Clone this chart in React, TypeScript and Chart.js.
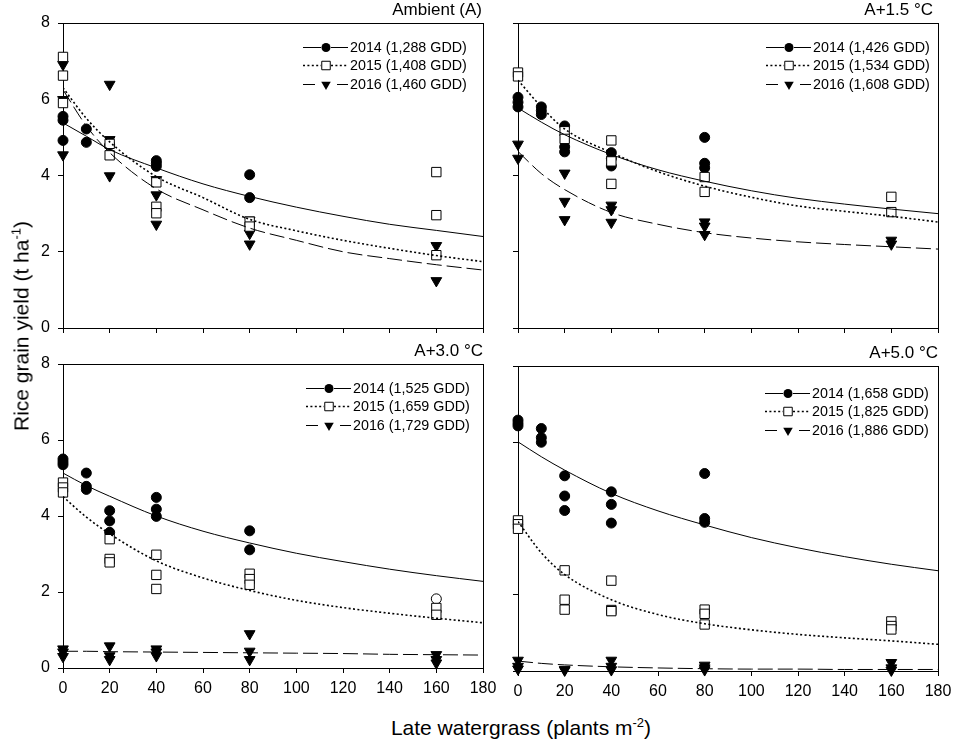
import React, { useEffect, useRef } from 'react';
import { Chart, registerables } from 'chart.js';

Chart.register(...registerables);

const FONT = '"Liberation Sans", Arial, Helvetica, sans-serif';

type Pt = [number, number];

// ---------- shared axes ----------
const xTicks = [0, 20, 40, 60, 80, 100, 120, 140, 160, 180];
const yTicks = [0, 2, 4, 6, 8];
const fitX = [0, 10, 20, 40, 60, 80, 100, 120, 140, 160, 180];

// ---------- Ambient (A) ----------
const ambLabels = ['2014 (1,288 GDD)', '2015 (1,408 GDD)', '2016 (1,460 GDD)'];
const amb2014: Pt[] = [[0, 5.55], [0, 5.45], [0, 4.92], [10, 5.22], [10, 4.87], [20, 4.8], [40, 4.39], [40, 4.32], [40, 4.24], [80, 4.02], [80, 3.42]];
const amb2015: Pt[] = [[0, 7.11], [0, 6.62], [0, 5.9], [20, 4.83], [20, 4.53], [40, 3.82], [40, 3.18], [40, 3.01], [80, 2.79], [80, 2.66], [160, 4.09], [160, 2.96], [160, 1.91]];
const amb2016: Pt[] = [[0, 6.91], [0, 5.99], [0, 4.54], [20, 6.39], [20, 4.94], [20, 3.99], [40, 3.89], [40, 3.49], [40, 2.72], [80, 2.83], [80, 2.48], [80, 2.2], [160, 2.16], [160, 1.24]];
const ambFit2014 = [5.38, 5.03, 4.68, 4.2, 3.78, 3.45, 3.17, 2.93, 2.72, 2.56, 2.4];
const ambFit2015 = [6.3, 5.5, 4.88, 3.97, 3.42, 2.85, 2.55, 2.3, 2.09, 1.9, 1.74];
const ambFit2016 = [6.25, 5.3, 4.6, 3.65, 3.1, 2.62, 2.3, 2.0, 1.82, 1.66, 1.52];

// ---------- A+1.5 °C ----------
const p15Labels = ['2014 (1,426 GDD)', '2015 (1,534 GDD)', '2016 (1,608 GDD)'];
const p15_2014: Pt[] = [[0, 6.05], [0, 5.92], [0, 5.8], [10, 5.8], [10, 5.7], [10, 5.6], [20, 5.3], [20, 4.75], [20, 4.62], [40, 4.6], [40, 4.45], [40, 4.25], [80, 5.0], [80, 4.32], [80, 4.2]];
const p15_2015: Pt[] = [[0, 6.7], [0, 6.6], [20, 5.16], [20, 4.96], [40, 4.92], [40, 4.37], [40, 3.78], [80, 3.96], [80, 3.57], [160, 3.44], [160, 3.04]];
const p15_2016: Pt[] = [[0, 4.82], [0, 4.45], [20, 4.06], [20, 3.32], [20, 2.84], [40, 3.22], [40, 3.1], [40, 2.77], [80, 2.78], [80, 2.67], [80, 2.45], [160, 2.3], [160, 2.2]];
const p15Fit2014 = [5.77, 5.4, 5.07, 4.55, 4.15, 3.85, 3.6, 3.4, 3.25, 3.12, 3.0];
const p15Fit2015 = [6.5, 5.8, 5.22, 4.6, 4.1, 3.72, 3.43, 3.2, 3.06, 2.93, 2.78];
const p15Fit2016 = [4.63, 4.05, 3.63, 3.03, 2.72, 2.5, 2.36, 2.26, 2.19, 2.13, 2.07];

// ---------- A+3.0 °C ----------
const p30Labels = ['2014 (1,525 GDD)', '2015 (1,659 GDD)', '2016 (1,729 GDD)'];
const p30_2014: Pt[] = [[0, 5.5], [0, 5.42], [0, 5.35], [10, 5.13], [10, 4.78], [10, 4.7], [20, 4.14], [20, 3.87], [20, 3.57], [40, 4.49], [40, 4.18], [40, 3.99], [80, 3.61], [80, 3.11]];
const p30_2014open: Pt[] = [[160, 1.82]];
const p30_2015: Pt[] = [[0, 4.88], [0, 4.75], [0, 4.62], [20, 3.39], [20, 2.87], [20, 2.78], [40, 2.98], [40, 2.45], [40, 2.08], [80, 2.48], [80, 2.34], [80, 2.19], [160, 1.58], [160, 1.4]];
const p30_2016: Pt[] = [[0, 0.5], [0, 0.42], [0, 0.3], [20, 0.58], [20, 0.32], [20, 0.22], [40, 0.5], [40, 0.42], [40, 0.32], [80, 0.9], [80, 0.44], [80, 0.22], [160, 0.35], [160, 0.22], [160, 0.13]];
const p30Fit2014 = [5.13, 4.8, 4.52, 4.0, 3.6, 3.29, 3.02, 2.8, 2.6, 2.43, 2.28];
const p30Fit2015 = [4.51, 3.97, 3.53, 2.82, 2.37, 2.04, 1.78, 1.59, 1.44, 1.31, 1.19];
const p30Fit2016 = [0.44, 0.44, 0.43, 0.42, 0.41, 0.4, 0.39, 0.38, 0.36, 0.35, 0.34];

// ---------- A+5.0 °C ----------
const p50Labels = ['2014 (1,658 GDD)', '2015 (1,825 GDD)', '2016 (1,886 GDD)'];
const p50_2014: Pt[] = [[0, 6.58], [0, 6.5], [0, 6.43], [10, 6.36], [10, 6.12], [10, 6.0], [20, 5.12], [20, 4.59], [20, 4.21], [40, 4.7], [40, 4.37], [40, 3.88], [80, 5.18], [80, 4.0], [80, 3.9]];
const p50_2015: Pt[] = [[0, 3.95], [0, 3.85], [0, 3.73], [20, 2.64], [20, 1.87], [20, 1.61], [40, 2.37], [40, 1.6], [40, 1.57], [80, 1.61], [80, 1.5], [80, 1.22], [160, 1.3], [160, 1.18], [160, 1.09]];
const p50_2016: Pt[] = [[0, 0.28], [0, 0.12], [0, 0.05], [20, 0.04], [20, 0.02], [40, 0.28], [40, 0.12], [40, 0.03], [80, 0.15], [80, 0.08], [80, 0.03], [160, 0.22], [160, 0.08], [160, 0.02]];
const p50Fit2014 = [6.01, 5.62, 5.27, 4.66, 4.2, 3.83, 3.5, 3.23, 3.0, 2.8, 2.63];
const p50Fit2015 = [3.92, 3.1, 2.53, 1.87, 1.48, 1.24, 1.08, 0.96, 0.87, 0.79, 0.7];
const p50Fit2016 = [0.26, 0.2, 0.16, 0.11, 0.08, 0.06, 0.05, 0.05, 0.04, 0.04, 0.04];

// ---------- styles ----------
type Marker = 'circle' | 'rect' | 'triangle';
const SERIES_STYLE: { marker: Marker; fill: string; radius: number; dash: number[]; lw: number }[] = [
  { marker: 'circle', fill: '#000', radius: 5, dash: [], lw: 1 },
  { marker: 'rect', fill: '#fff', radius: 6.6, dash: [2, 2.4], lw: 1.6 },
  { marker: 'triangle', fill: '#000', radius: 6.2, dash: [15, 5], lw: 1 },
];

interface PanelSpec {
  title: string;
  labels: string[];
  pts: Pt[][];
  fits: number[][];
  openPts?: Pt[];
  showX: boolean;
  showY: boolean;
  plotLeft: number;
  plotTop: number;
  plotH: number;
  legendDx: number;
  legendDy: number;
  titleDx: number;
}

const PANELS: PanelSpec[] = [
  { title: 'Ambient (A)', labels: ambLabels, pts: [amb2014, amb2015, amb2016], fits: [ambFit2014, ambFit2015, ambFit2016], showX: false, showY: true, plotLeft: 63, plotTop: 23, plotH: 305, legendDx: -133, legendDy: 24, titleDx: -1 },
  { title: 'A+1.5 °C', labels: p15Labels, pts: [p15_2014, p15_2015, p15_2016], fits: [p15Fit2014, p15Fit2015, p15Fit2016], showX: false, showY: false, plotLeft: 518, plotTop: 23, plotH: 305, legendDx: -125, legendDy: 24, titleDx: -5 },
  { title: 'A+3.0 °C', labels: p30Labels, pts: [p30_2014, p30_2015, p30_2016], fits: [p30Fit2014, p30Fit2015, p30Fit2016], openPts: p30_2014open, showX: true, showY: true, plotLeft: 63, plotTop: 364, plotH: 304, legendDx: -130, legendDy: 24, titleDx: 0 },
  { title: 'A+5.0 °C', labels: p50Labels, pts: [p50_2014, p50_2015, p50_2016], fits: [p50Fit2014, p50Fit2015, p50Fit2016], showX: true, showY: false, plotLeft: 518, plotTop: 366, plotH: 305, legendDx: -126, legendDy: 27, titleDx: 0 },
];

const PLOT_W = 420;
const AXIS_W = 45;
const AXIS_H = 35;
const PAD_TOP = 20;
const PAD_RIGHT = 20;

function drawLegendMarker(ctx: CanvasRenderingContext2D, m: Marker, x: number, y: number) {
  ctx.save();
  ctx.setLineDash([]);
  ctx.lineWidth = 1;
  ctx.strokeStyle = '#000';
  ctx.beginPath();
  if (m === 'circle') {
    ctx.arc(x, y, 4.5, 0, Math.PI * 2);
    ctx.fillStyle = '#000';
    ctx.fill();
  } else if (m === 'rect') {
    ctx.rect(x - 4.25, y - 4.25, 8.5, 8.5);
    ctx.fillStyle = '#fff';
    ctx.fill();
    ctx.stroke();
  } else {
    const r = 5.5;
    ctx.moveTo(x, y + r);
    ctx.lineTo(x - r * 0.866, y - r / 2);
    ctx.lineTo(x + r * 0.866, y - r / 2);
    ctx.closePath();
    ctx.fillStyle = '#000';
    ctx.fill();
  }
  ctx.restore();
}

function Panel({ spec }: { spec: PanelSpec }) {
  const ref = useRef<HTMLCanvasElement>(null);
  const W = AXIS_W + PLOT_W + PAD_RIGHT;
  const H = PAD_TOP + spec.plotH + AXIS_H;

  useEffect(() => {
    if (!ref.current) return;
    const datasets: any[] = [];
    // fitted curves (drawn on top of the markers)
    spec.fits.forEach((ys, i) => {
      const st = SERIES_STYLE[i];
      datasets.push({
        type: 'line',
        data: fitX.map((x, k) => ({ x, y: ys[k] })),
        borderColor: '#000',
        borderWidth: st.lw,
        borderDash: st.dash,
        pointRadius: 0,
        fill: false,
        showLine: true,
        cubicInterpolationMode: 'monotone',
        order: i,
      });
    });
    const markerOrder = [4, 3, 5];
    spec.pts.forEach((pts, i) => {
      const st = SERIES_STYLE[i];
      datasets.push({
        type: 'scatter',
        data: pts.map(([x, y]) => ({ x, y })),
        pointStyle: st.marker,
        pointRotation: st.marker === 'triangle' ? 180 : 0,
        pointRadius: st.radius,
        pointBackgroundColor: st.fill,
        pointBorderColor: '#000',
        pointBorderWidth: 1,
        showLine: false,
        clip: false,
        order: markerOrder[i],
      });
    });
    if (spec.openPts) {
      datasets.push({
        type: 'scatter',
        data: spec.openPts.map(([x, y]) => ({ x, y })),
        pointStyle: 'circle',
        pointRadius: 5,
        pointBackgroundColor: '#fff',
        pointBorderColor: '#000',
        pointBorderWidth: 1,
        showLine: false,
        clip: false,
        order: 3,
      });
    }

    const decor = {
      id: 'decor',
      beforeDatasetsDraw(chart: any) {
        const { ctx, chartArea: a } = chart;
        ctx.save();
        ctx.strokeStyle = '#000';
        ctx.lineWidth = 1;
        ctx.strokeRect(Math.round(a.left) + 0.5, Math.round(a.top) + 0.5, Math.round(a.right - a.left), Math.round(a.bottom - a.top));
        ctx.restore();
      },
      afterDraw(chart: any) {
        const { ctx, chartArea: a } = chart;
        ctx.save();
        // panel title
        ctx.fillStyle = '#000';
        ctx.font = `17px ${FONT}`;
        ctx.textAlign = 'right';
        ctx.textBaseline = 'middle';
        ctx.fillText(spec.title, a.right + spec.titleDx, a.top - 13);
        // legend
        ctx.font = `14.3px ${FONT}`;
        ctx.textAlign = 'left';
        const tx = a.right + spec.legendDx;
        spec.labels.forEach((label, i) => {
          const st = SERIES_STYLE[i];
          const y = Math.round(a.top + spec.legendDy + i * 18.3) + 0.5;
          const mx = tx - 24;
          ctx.strokeStyle = '#000';
          ctx.lineWidth = st.lw;
          ctx.beginPath();
          if (i === 2) {
            // long-dash sample: one dash on each side of the marker
            ctx.setLineDash([]);
            ctx.moveTo(tx - 47, y);
            ctx.lineTo(tx - 35, y);
            ctx.moveTo(tx - 13, y);
            ctx.lineTo(tx - 2, y);
          } else {
            ctx.setLineDash(st.dash);
            ctx.moveTo(tx - 47, y);
            ctx.lineTo(mx - 5, y);
            ctx.moveTo(mx + 5, y);
            ctx.lineTo(tx - 2, y);
          }
          ctx.stroke();
          ctx.setLineDash([]);
          drawLegendMarker(ctx, st.marker, mx, y);
          ctx.fillStyle = '#000';
          ctx.fillText(label, tx, y + 1);
        });
        ctx.restore();
      },
    };

    const chart = new Chart(ref.current, {
      type: 'scatter',
      data: { datasets },
      options: {
        responsive: false,
        animation: false,
        events: [],
        layout: { padding: { top: PAD_TOP, right: PAD_RIGHT, left: 0, bottom: 0 } },
        plugins: { legend: { display: false }, tooltip: { enabled: false }, title: { display: false } },
        scales: {
          x: {
            type: 'linear',
            min: 0,
            max: 180,
            afterBuildTicks: (s: any) => { s.ticks = xTicks.map((v) => ({ value: v })); },
            afterFit: (s: any) => { s.height = AXIS_H; },
            border: { display: true, color: '#000', width: 1 },
            grid: { display: true, drawOnChartArea: false, drawTicks: true, tickLength: 5, tickColor: '#000', tickWidth: 1 },
            ticks: { display: spec.showX, color: '#000', font: { family: FONT, size: 16 }, padding: 6, maxRotation: 0, autoSkip: false },
          },
          y: {
            type: 'linear',
            min: 0,
            max: 8,
            afterBuildTicks: (s: any) => { s.ticks = yTicks.map((v) => ({ value: v })); },
            afterFit: (s: any) => { s.width = AXIS_W; },
            border: { display: true, color: '#000', width: 1 },
            grid: { display: true, drawOnChartArea: false, drawTicks: true, tickLength: 5, tickColor: '#000', tickWidth: 1 },
            ticks: { display: spec.showY, color: '#000', font: { family: FONT, size: 16 }, padding: 8 },
          },
        },
      } as any,
      plugins: [decor],
    });
    return () => chart.destroy();
  }, []);

  return (
    <canvas
      ref={ref}
      width={W}
      height={H}
      style={{ position: 'absolute', left: spec.plotLeft - AXIS_W, top: spec.plotTop - PAD_TOP, width: W, height: H }}
    />
  );
}

export default function App() {
  const supStyle: React.CSSProperties = { fontSize: '0.62em', position: 'relative', top: '-0.62em' };
  return (
    <div style={{ position: 'absolute', left: 0, top: 0, width: 957, height: 742, background: '#fff', overflow: 'hidden', fontFamily: FONT, color: '#000' }}>
      {PANELS.map((p, i) => (
        <Panel key={i} spec={p} />
      ))}
      <div style={{ position: 'absolute', left: 521, top: 727, transform: 'translate(-50%, -50%)', fontSize: 21, lineHeight: 1, whiteSpace: 'nowrap' }}>
        Late watergrass (plants m<span style={supStyle}>-2</span>)
      </div>
      <div style={{ position: 'absolute', left: 21, top: 326, transform: 'translate(-50%, -50%) rotate(-90deg)', fontSize: 21, lineHeight: 1, whiteSpace: 'nowrap' }}>
        Rice grain yield (t ha<span style={supStyle}>-1</span>)
      </div>
    </div>
  );
}
